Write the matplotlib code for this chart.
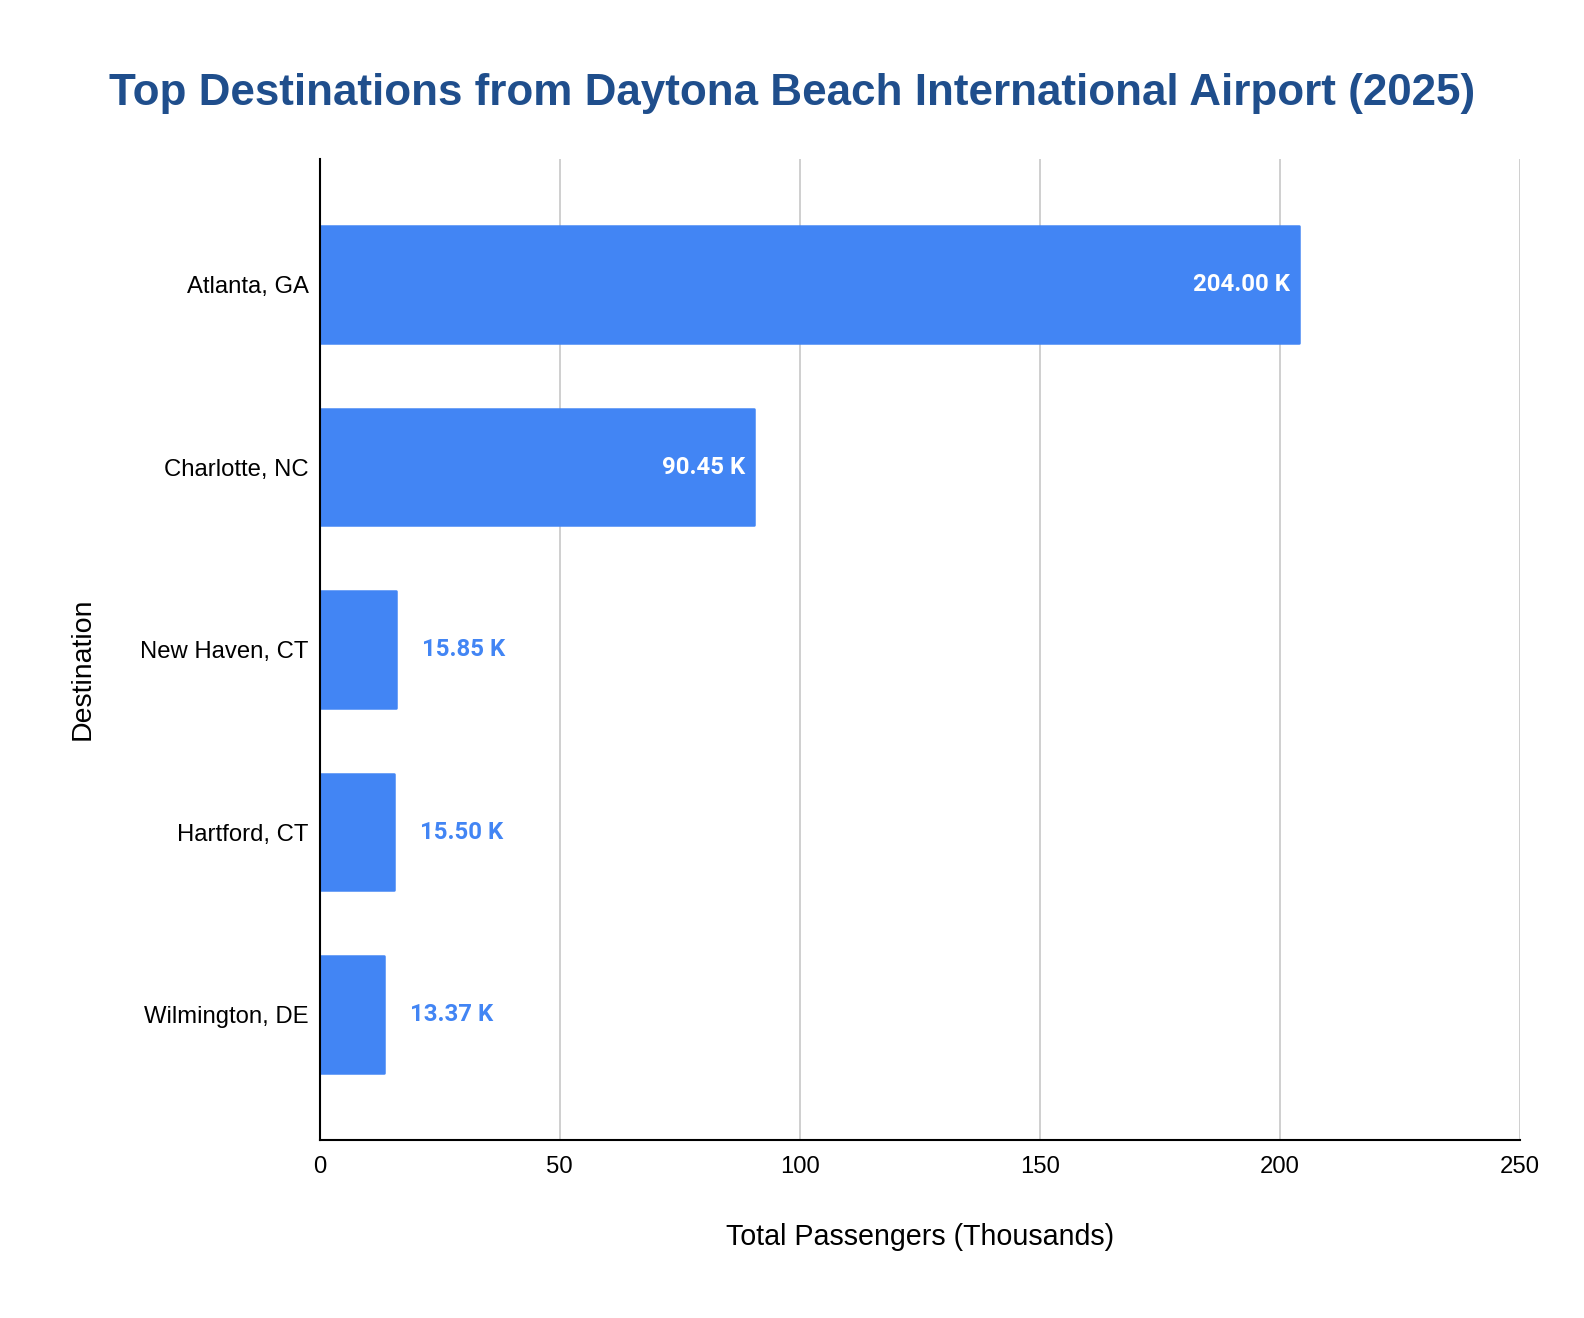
import matplotlib.pyplot as plt
import numpy as np

# datos
destinations = ['Atlanta, GA', 'Charlotte, NC', 'New Haven, CT', 'Hartford, CT', 'Wilmington, DE']
passengers = [204.00, 90.45, 15.85, 15.50, 13.37]
labels = ['204.00 K', '90.45 K', '15.85 K', '15.50 K', '13.37 K']
xticks = [0, 50, 100, 150, 200, 250]

bar_color = '#4285F4'
title_color = '#1F4E8C'

plt.rcParams['font.family'] = ['Liberation Sans', 'DejaVu Sans']

W, H = 1584, 1318
fig = plt.figure(figsize=(W / 100, H / 100), dpi=100)
left, right, top, bottom = 319.5, 1520, 158.7, 1139.5
ax = fig.add_axes([left / W, 1 - bottom / H, (right - left) / W, (bottom - top) / H])

y = np.arange(len(destinations))
# borde del mismo color con juntas redondeadas -> esquinas suaves
bars = ax.barh(y, passengers, height=0.638, color=bar_color, edgecolor=bar_color,
               linewidth=1.8, zorder=3)
for b in bars:
    b.set_joinstyle('round')

ax.set_xlim(0, 250)
ax.set_ylim(4.685, -0.69)
ax.set_xticks(xticks)
ax.set_yticks(y)
ax.set_yticklabels(destinations)
ax.tick_params(axis='both', length=0, labelsize=17.2)
ax.tick_params(axis='y', pad=8)
ax.tick_params(axis='x', pad=12)

ax.grid(axis='x', color='#CCCCCC', linewidth=1.3, zorder=0)
ax.set_axisbelow(True)
for s in ['top', 'right']:
    ax.spines[s].set_visible(False)
ax.spines['left'].set_linewidth(1.5)
ax.spines['bottom'].set_linewidth(1.5)
ax.spines['left'].set_zorder(4)

for yi, v, lab in zip(y, passengers, labels):
    if v > 50:
        ax.annotate(lab, (v, yi), xytext=(-9, 0), textcoords='offset pixels',
                    ha='right', va='center', color='white', fontsize=17.3,
                    fontweight='bold', family=['Roboto', 'DejaVu Sans'], zorder=5)
    else:
        ax.annotate(lab, (v, yi), xytext=(26, 0), textcoords='offset pixels',
                    ha='left', va='center', color=bar_color, fontsize=17.3,
                    fontweight='bold', family=['Roboto', 'DejaVu Sans'], zorder=5)

fig.text(0.5, 1 - 94 / H, 'Top Destinations from Daytona Beach International Airport (2025)',
         ha='center', va='center', fontsize=31.7, fontweight='bold', color=title_color)
fig.text(920 / W, 1 - 1237 / H, 'Total Passengers (Thousands)',
         ha='center', va='center', fontsize=20.6)
fig.text(83 / W, 1 - 669 / H, 'Destination', ha='center', va='center',
         rotation=90, fontsize=20.5)

fig.savefig('out.png', dpi=100, facecolor='white')
